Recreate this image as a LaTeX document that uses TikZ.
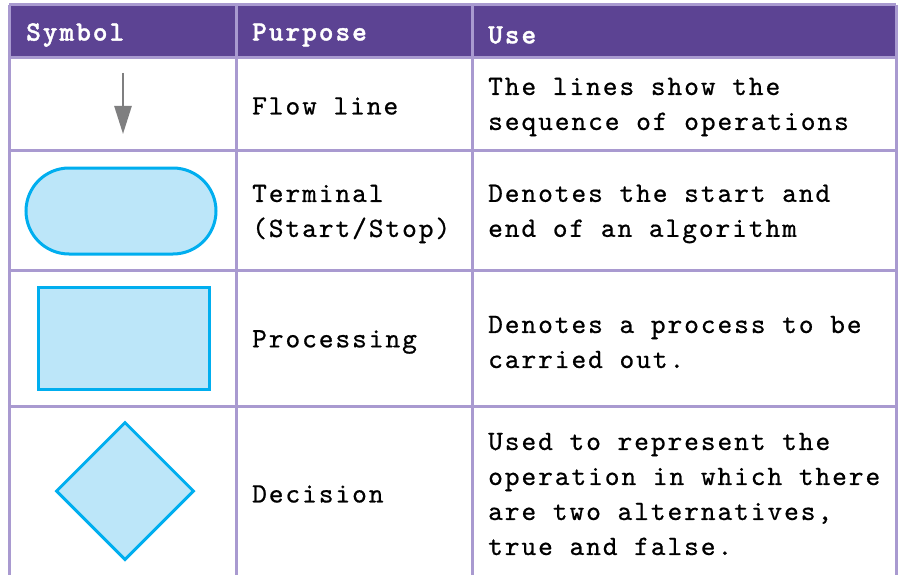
\documentclass[tikz,border=0pt]{standalone}
\usepackage{fontspec}
% serif typewriter faces, tracked out to a Courier-like pitch
\newfontfamily\cellfont{lmmono10-regular.otf}[LetterSpace=7,FakeBold=0.7]
\newfontfamily\headfont{lmmonolt10-bold.otf}[LetterSpace=7,FakeBold=1.2]
\usetikzlibrary{shapes.geometric,arrows.meta}
\definecolor{headfill}{HTML}{5C4393}
\definecolor{gridline}{HTML}{A99AD0}
\definecolor{symline}{HTML}{00AEEF}
\definecolor{symfill}{HTML}{BCE6F9}
\definecolor{flowgray}{HTML}{7F7F80}
\tikzset{
  grid/.style={draw=gridline, line width=3pt},
  headtext/.style={anchor=west, inner sep=0pt, text=white,
    font=\headfont\fontsize{28}{35}\selectfont},
  celltext/.style={anchor=west, inner sep=0pt, align=left, text=black,
    font=\cellfont\fontsize{28}{35}\selectfont},
  symbol/.style={draw=symline, fill=symfill, line width=3pt, inner sep=0pt},
}
\begin{document}
\begin{tikzpicture}[x=1pt, y=-1pt]
\useasboundingbox (0,0) rectangle (899,575);
\fill[white] (0,0) rectangle (899,575);

% header band
\fill[headfill] (9,5) rectangle (896,58);

% table rules
\draw[grid] (9,5) -- (896,5);
\foreach \yy in {58,150,270,406} \draw[grid] (9,\yy) -- (896,\yy);
\foreach \xx in {9,236,472,896} \draw[grid] (\xx,5) -- (\xx,575);

% header
\node[headtext] (hsym) at (26,35) {Symbol};
\node[headtext] (hpur) at (252,35) {Purpose};
\node[headtext] (huse) at (488,35) {Use};

% flow line
\coordinate (fltop) at (123,73);
\coordinate (flbot) at (123,134);
\draw[flowgray, line width=2.5pt, -{Triangle[length=28pt,width=17pt]}] (fltop) -- (flbot);
\node[celltext] (p1) at (252,106) {Flow line};
\node[celltext] (u1) at (488,107) {The lines show the\\sequence of operations};

% terminal
\node[symbol, minimum width=190pt, minimum height=86pt, rounded corners=43pt] (term) at (121,211) {};
\node[celltext] (p2) at (252,214) {Terminal\\(Start/Stop)};
\node[celltext] (u2) at (488,214) {Denotes the start and\\end of an algorithm};

% processing
\node[symbol, minimum width=171pt, minimum height=102pt] (proc) at (123.5,338) {};
\node[celltext] (p3) at (252,342) {Processing};
\node[celltext] (u3) at (488,342) {Denotes a process to be\\carried out.};

% decision
\node[symbol, diamond, minimum width=138pt, minimum height=138pt] (dec) at (125,491) {};
\node[celltext] (p4) at (252,494) {Decision};
\node[celltext] (u4) at (488,494) {Used to represent the\\operation in which there\\are two alternatives,\\true and false.};
\end{tikzpicture}
\end{document}
